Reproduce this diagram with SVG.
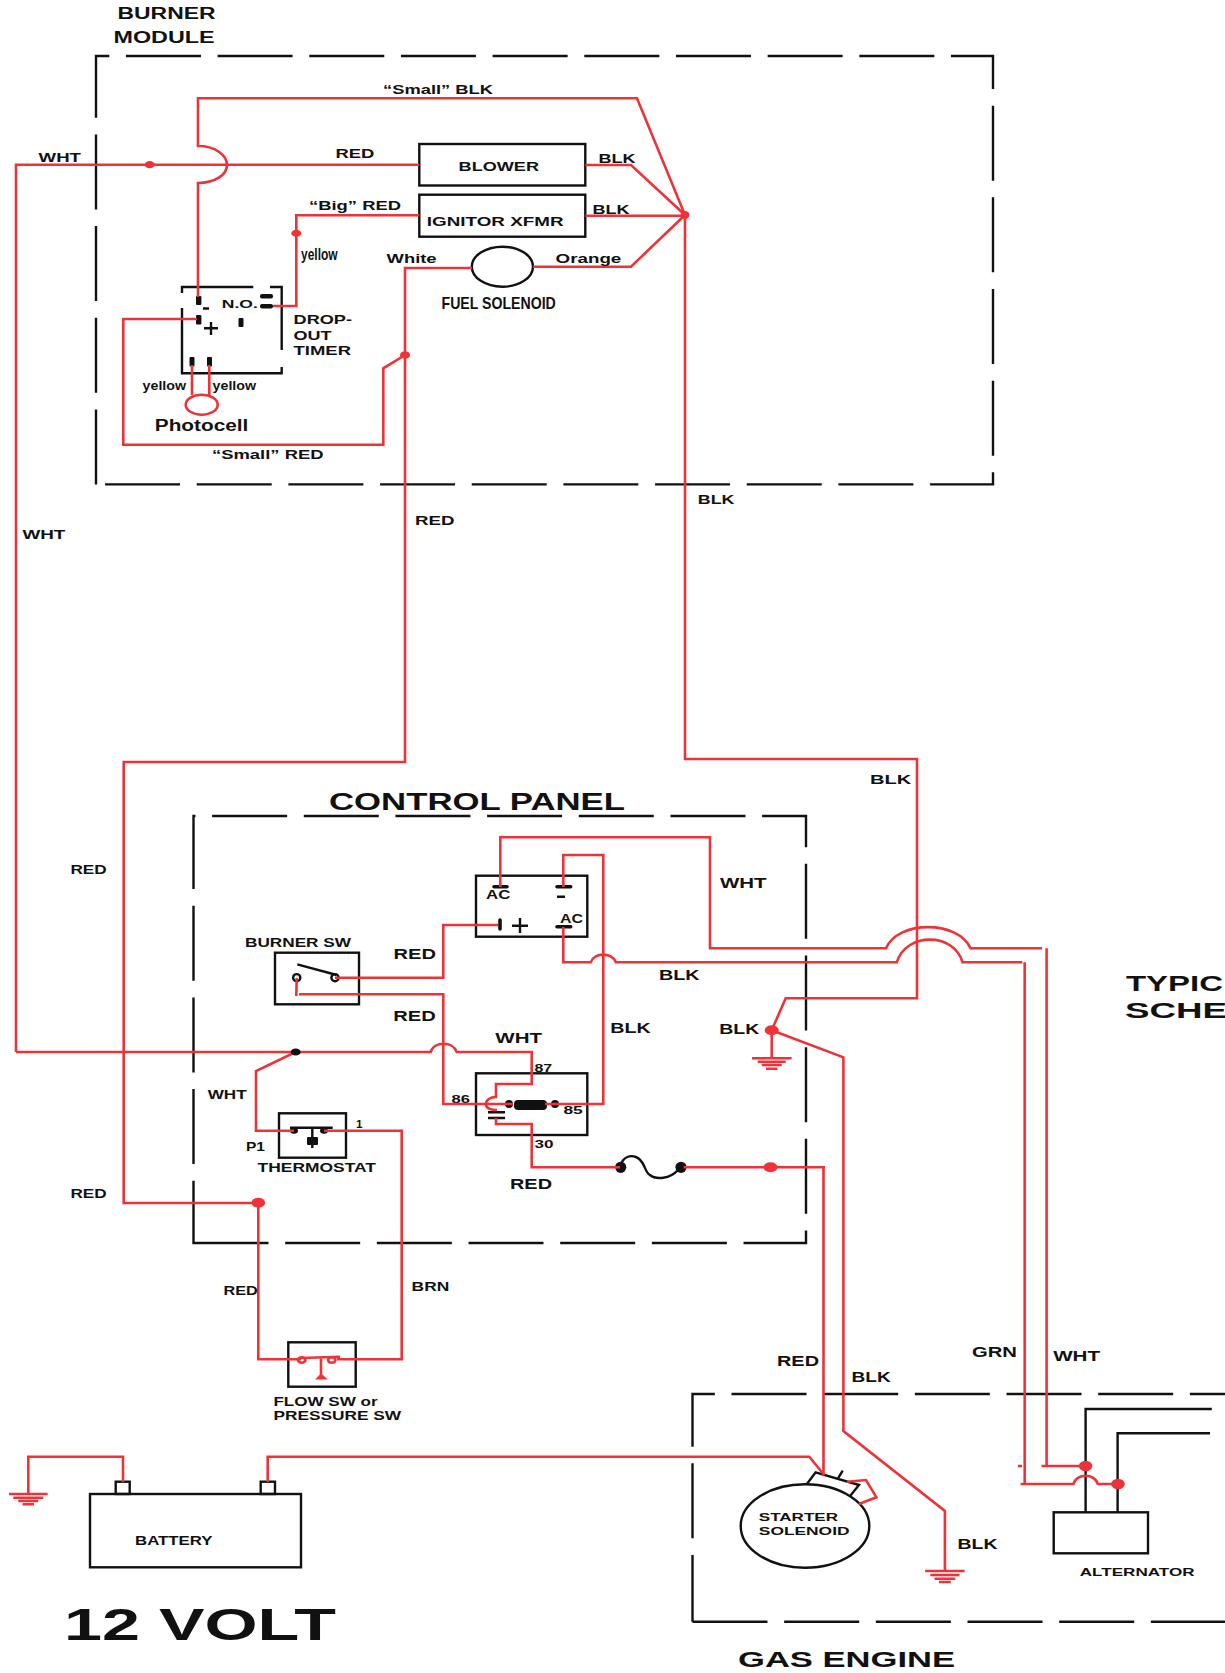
<svg xmlns="http://www.w3.org/2000/svg" width="1225" height="1673" viewBox="0 0 1225 1673">
<style>
text{font-family:"Liberation Sans",Arial,sans-serif;font-weight:700;fill:#111}
.k{fill:none;stroke:#111;stroke-width:2.4}
.d{fill:none;stroke:#111;stroke-width:2.4;stroke-dasharray:75 16.67}
.r{fill:none;stroke:#ee3338;stroke-width:2.6}
.rf{fill:#ee3338;stroke:none}
.kf{fill:#111;stroke:none}
.bar{fill:none;stroke:#111;stroke-width:3.6;stroke-linecap:round}
.s10{font-size:10.5px}.s11{font-size:11.5px}.s12{font-size:12px}.s13{font-size:13px}.s14{font-size:14px}.s16{font-size:16px}.s18{font-size:17px}.s22{font-size:22px}.s23{font-size:23px}.s44{font-size:44px}
</style>
<g id="burner-module">
<path class="d" d="M96,484.4V56H993V484.4Z"/>
<text class="s16" x="117.5" y="19" textLength="98" lengthAdjust="spacingAndGlyphs">BURNER</text>
<text class="s16" x="113.5" y="43.3" textLength="101" lengthAdjust="spacingAndGlyphs">MODULE</text>
</g>
<g id="control-panel">
<path class="d" d="M193.5,1243H806V816H193.5Z"/>
<text class="s23" x="329" y="810" textLength="296" lengthAdjust="spacingAndGlyphs">CONTROL PANEL</text>
</g>
<g id="gas-engine">
<path class="d" d="M692.5,1621.7H1240"/>
<path class="d" stroke-dashoffset="8.3" d="M692.5,1621.7V1394H1240"/>
<text class="s22" x="738" y="1667" textLength="217" lengthAdjust="spacingAndGlyphs">GAS ENGINE</text>
</g>
<g id="blower">
<rect class="k" x="419.3" y="144" width="166" height="41.5"/>
<text class="s13" x="458.6" y="171" textLength="80.4" lengthAdjust="spacingAndGlyphs">BLOWER</text>
</g>
<g id="ignitor">
<rect class="k" x="419.3" y="194.7" width="166" height="42"/>
<text class="s13" x="426.8" y="226" textLength="136.7" lengthAdjust="spacingAndGlyphs">IGNITOR XFMR</text>
</g>
<g id="fuel-solenoid">
<ellipse class="k" cx="502.4" cy="266.7" rx="30.6" ry="20"/>
<text class="s18" x="441.5" y="309.3" textLength="114.3" lengthAdjust="spacingAndGlyphs">FUEL SOLENOID</text>
</g>
<g id="drop-out-timer">
<path class="k" d="M182,293V287H253.3M270,287H281.7V350M281.7,367V373.3H182V308"/>
<rect class="kf" x="260" y="294" width="13" height="4.5" rx="2"/>
<rect class="kf" x="260" y="304" width="13" height="4.5" rx="2"/>
<rect class="kf" x="196" y="296" width="5.4" height="9" rx="1"/>
<rect class="kf" x="196" y="315" width="5.4" height="9.5" rx="1"/>
<rect class="kf" x="238.5" y="318" width="5" height="9" rx="1"/>
<rect class="kf" x="189.5" y="357" width="5" height="9.5" rx="1"/>
<rect class="kf" x="207" y="357" width="5" height="9.5" rx="1"/>
<path class="k" d="M203,308.5H209M204,328.3H218M211,322V335"/>
<text class="s11" x="221.8" y="308.3" textLength="36" lengthAdjust="spacingAndGlyphs">N.O.</text>
<text class="s13" x="293.6" y="324.3" textLength="58.4" lengthAdjust="spacingAndGlyphs">DROP-</text>
<text class="s13" x="293.6" y="340" textLength="38" lengthAdjust="spacingAndGlyphs">OUT</text>
<text class="s13" x="293.6" y="355" textLength="57.4" lengthAdjust="spacingAndGlyphs">TIMER</text>
</g>
<g id="photocell">
<ellipse class="r" cx="201.7" cy="404.7" rx="16" ry="10"/>
<text class="s16" x="154.8" y="431" textLength="93.5" lengthAdjust="spacingAndGlyphs">Photocell</text>
</g>
<g id="rectifier">
<rect class="k" x="476" y="875.7" width="111.3" height="61"/>
<path class="bar" d="M494,886.7H507M557,886.7H570.7M557,926.7H570.7M500,920V929"/>
<path class="k" d="M557,896.7H565M512,925.7H528M520,918V933"/>
<text class="s12" x="486" y="899" textLength="24.3" lengthAdjust="spacingAndGlyphs">AC</text>
<text class="s12" x="560" y="923.3" textLength="23" lengthAdjust="spacingAndGlyphs">AC</text>
</g>
<g id="burner-sw">
<rect class="k" x="275" y="952.7" width="84" height="51.6"/>
<path class="k" d="M297.3,964.3L336.7,975"/>
<circle class="k" cx="296.7" cy="977.7" r="3.6"/>
<circle class="k" cx="335" cy="977.7" r="3.6"/>
<text class="s12" x="245" y="947.3" textLength="106" lengthAdjust="spacingAndGlyphs">BURNER SW</text>
</g>
<g id="relay">
<rect class="k" x="476" y="1073.3" width="111.3" height="61.7"/>
<circle class="kf" cx="509" cy="1104" r="4"/>
<circle class="kf" cx="555" cy="1104" r="4"/>
<rect class="kf" x="514" y="1100" width="33" height="10" rx="4"/>
<path class="k" d="M488,1112.3H505M488,1118H505"/>
<text class="s11" x="534.4" y="1072" textLength="17.7" lengthAdjust="spacingAndGlyphs">87</text>
<text class="s11" x="451.6" y="1103.3" textLength="18.4" lengthAdjust="spacingAndGlyphs">86</text>
<text class="s11" x="563.4" y="1114" textLength="19.3" lengthAdjust="spacingAndGlyphs">85</text>
<text class="s11" x="534.4" y="1148" textLength="19" lengthAdjust="spacingAndGlyphs">30</text>
</g>
<g id="thermostat">
<rect class="k" x="279" y="1113.3" width="67" height="44.4"/>
<path class="k" d="M290,1127.7H332.7M312.3,1127.7V1148"/>
<rect class="kf" x="307" y="1137" width="11" height="8" rx="1"/>
<ellipse class="kf" cx="294" cy="1130.7" rx="4" ry="3"/>
<ellipse class="kf" cx="324" cy="1130.7" rx="4" ry="3"/>
<text class="s12" x="257.6" y="1172" textLength="118.4" lengthAdjust="spacingAndGlyphs">THERMOSTAT</text>
<text class="s11" x="356" y="1127.7" textLength="6.5" lengthAdjust="spacingAndGlyphs">1</text>
<text class="s12" x="246" y="1151" textLength="19" lengthAdjust="spacingAndGlyphs">P1</text>
</g>
<g id="fuse">
<circle class="kf" cx="620.7" cy="1167.3" r="5.6"/>
<circle class="kf" cx="681" cy="1167.3" r="5.6"/>
<path class="k" d="M621,1164C624,1157 630,1155 636,1157C645,1160 644,1172 650,1175C656,1180 670,1179 678,1170"/>
</g>
<g id="flow-sw">
<rect class="k" x="288.3" y="1342.3" width="67.4" height="44.4"/>
<text class="s12" x="273.4" y="1406" textLength="104.3" lengthAdjust="spacingAndGlyphs">FLOW SW or</text>
<text class="s12" x="273.4" y="1420" textLength="127.7" lengthAdjust="spacingAndGlyphs">PRESSURE SW</text>
</g>
<g id="battery">
<rect class="k" x="90" y="1494" width="211" height="73.3"/>
<rect class="k" x="115.7" y="1481.7" width="14" height="12.3"/>
<rect class="k" x="260.7" y="1481.7" width="14.3" height="12.3"/>
<text class="s12" x="135" y="1545" textLength="77.6" lengthAdjust="spacingAndGlyphs">BATTERY</text>
<text class="s44" x="64" y="1640" textLength="272" lengthAdjust="spacingAndGlyphs">12 VOLT</text>
</g>
<g id="starter-solenoid">
<ellipse class="k" cx="805" cy="1526" rx="64.3" ry="41.7"/>
<path class="k" d="M806.9,1484L815.6,1472.3L859,1485L850.3,1495.7M838,1478.3L842.7,1470.7"/>
<text class="s11" x="758.8" y="1521" textLength="79.2" lengthAdjust="spacingAndGlyphs">STARTER</text>
<text class="s11" x="758.8" y="1535" textLength="90.7" lengthAdjust="spacingAndGlyphs">SOLENOID</text>
</g>
<g id="alternator">
<rect class="k" x="1053.7" y="1512.3" width="94.3" height="41"/>
<path class="k" d="M1085.6,1512.3V1409H1211.8M1117.6,1512.3V1433.3H1210"/>
<text class="s11" x="1079.8" y="1576" textLength="114.7" lengthAdjust="spacingAndGlyphs">ALTERNATOR</text>
</g>
<g id="connectors">
<path class="r" d="M16,1052V164.7H419.3"/>
<path class="r" d="M198,297V183C215,183 227,175 227,164.7C227,155 215,146 198,146V98.3H637L685,215"/>
<path class="r" d="M585.3,165H631L685,215M585.3,215.7H685M533,266.7H631L685,215"/>
<path class="r" d="M685,215V759H917V998.3H785.7L771.7,1030.3L843.4,1057.3V1431L944.9,1511V1571"/>
<path class="r" d="M771.7,1030.3V1058.3"/>
<path class="r" d="M472,268H405V762H123.7V1203H258.3V1359.3H301"/>
<path class="r" d="M405,355L383.3,368.3V444.8H123.3V319H197"/>
<path class="r" d="M419.3,215.3H296.3V306H273"/>
<path class="r" d="M192,365V395M209.3,365V395"/>
<path class="r" d="M16,1052H430.7C434,1041 453,1041 456.7,1052H531.7V1084H496V1097C490,1097 486,1100 486,1104C486,1108 490,1110 497,1110"/>
<path class="r" d="M295.7,1052L256,1071V1130.7H294"/>
<path class="r" d="M324,1130.7H401.7V1359.3H336.7"/>
<path class="r" d="M335,977.7H443.3V925H498"/>
<path class="r" d="M296.7,978L296.3,996M299,994.3H443.3V1104H513"/>
<path class="r" d="M545,1104H603.3V855H563.3V887"/>
<path class="r" d="M500.3,887V837.3H710V948.3H886C898,920 958,920 970.5,948.3H1042"/>
<path class="r" d="M1046.6,948.3V1466M1041.5,1466H1085.6"/>
<path class="r" d="M563.3,927V962.3H590.7C594,952 612,952 616,962.3H896.8C906,932 954,932 962.5,962.3H1022.3"/>
<path class="r" d="M1024.7,962.3V1484M1020.6,1484H1073.5C1076,1473 1095,1473 1097.8,1484H1118"/>
<path class="r" d="M1018,1466H1022"/>
<path class="r" d="M496,1118V1124H531.7V1167.3H620"/>
<path class="r" d="M683.7,1167.3H825M823.5,1167.3V1475"/>
<path class="r" d="M123,1482V1456.7H28.3V1494M267.7,1482V1456.7H809.3L824.2,1475"/>
<path class="r" d="M846.8,1481.7L866,1480L876.4,1497.3L859,1504"/>
<path class="r" stroke-width="2" d="M321,1357V1378M301,1358L340,1356.7"/>
<ellipse class="r" cx="301.7" cy="1360" rx="3.6" ry="2.8"/>
<ellipse class="r" cx="331.7" cy="1360" rx="3.6" ry="2.8"/>
<path class="rf" d="M315,1379.5L321,1373.5L328,1379.5Z"/>
<path class="r" d="M9,1494H47.6M13.3,1497.7H43.3M18.3,1501H38.3M22.6,1504.3H34M752,1058.3H791.6M757.7,1061.7H785.7M761.7,1065H781.7M766,1068.7H777.4M925.2,1571H964.6M930.3,1575H959.5M934.5,1578.7H955.3M939,1582H950.8"/>
<ellipse class="rf" cx="149.7" cy="164.7" rx="5" ry="3.6"/>
<ellipse class="rf" cx="296.3" cy="233.3" rx="5" ry="3.6"/>
<ellipse class="rf" cx="405" cy="355" rx="5" ry="3.8"/>
<ellipse class="rf" cx="685" cy="215" rx="4.5" ry="4"/>
<ellipse class="kf" cx="295.7" cy="1052" rx="5" ry="3.6"/>
<ellipse class="rf" cx="258.3" cy="1202.7" rx="6.8" ry="5"/>
<ellipse class="rf" cx="771.7" cy="1030.3" rx="7" ry="5"/>
<ellipse class="rf" cx="770.5" cy="1167.3" rx="7" ry="5"/>
<ellipse class="rf" cx="1085.6" cy="1466" rx="6.8" ry="5.2"/>
<ellipse class="rf" cx="1118" cy="1484" rx="6.8" ry="5.2"/>
</g>
<g id="wire-labels">
<text class="s13" x="383" y="94.3" textLength="110" lengthAdjust="spacingAndGlyphs">“Small” BLK</text>
<text class="s13" x="38.6" y="162" textLength="42.4" lengthAdjust="spacingAndGlyphs">WHT</text>
<text class="s13" x="335.4" y="158" textLength="39" lengthAdjust="spacingAndGlyphs">RED</text>
<text class="s13" x="309" y="210" textLength="92" lengthAdjust="spacingAndGlyphs">“Big” RED</text>
<text class="s16" x="301" y="260" textLength="36.6" lengthAdjust="spacingAndGlyphs">yellow</text>
<text class="s13" x="386.6" y="263.3" textLength="50" lengthAdjust="spacingAndGlyphs">White</text>
<text class="s13" x="555.6" y="263.3" textLength="65.7" lengthAdjust="spacingAndGlyphs">Orange</text>
<text class="s13" x="598.4" y="163.3" textLength="37" lengthAdjust="spacingAndGlyphs">BLK</text>
<text class="s13" x="592.4" y="214.3" textLength="37" lengthAdjust="spacingAndGlyphs">BLK</text>
<text class="s13" x="142.6" y="390" textLength="43.4" lengthAdjust="spacingAndGlyphs">yellow</text>
<text class="s13" x="212.6" y="390" textLength="43.4" lengthAdjust="spacingAndGlyphs">yellow</text>
<text class="s13" x="212" y="459.3" textLength="111.5" lengthAdjust="spacingAndGlyphs">“Small” RED</text>
<text class="s13" x="22.4" y="539" textLength="43" lengthAdjust="spacingAndGlyphs">WHT</text>
<text class="s13" x="697.8" y="504" textLength="36.6" lengthAdjust="spacingAndGlyphs">BLK</text>
<text class="s13" x="415" y="525" textLength="39.5" lengthAdjust="spacingAndGlyphs">RED</text>
<text class="s13" x="870" y="784" textLength="41.3" lengthAdjust="spacingAndGlyphs">BLK</text>
<text class="s12" x="70.4" y="874" textLength="36.3" lengthAdjust="spacingAndGlyphs">RED</text>
<text class="s14" x="720" y="888.3" textLength="46.6" lengthAdjust="spacingAndGlyphs">WHT</text>
<text class="s14" x="393.6" y="959" textLength="42.4" lengthAdjust="spacingAndGlyphs">RED</text>
<text class="s14" x="393.3" y="1021" textLength="42.4" lengthAdjust="spacingAndGlyphs">RED</text>
<text class="s14" x="659" y="979.7" textLength="40.6" lengthAdjust="spacingAndGlyphs">BLK</text>
<text class="s14" x="610.3" y="1033" textLength="40.4" lengthAdjust="spacingAndGlyphs">BLK</text>
<text class="s14" x="719.3" y="1034" textLength="40" lengthAdjust="spacingAndGlyphs">BLK</text>
<text class="s14" x="495.3" y="1043.3" textLength="46.7" lengthAdjust="spacingAndGlyphs">WHT</text>
<text class="s12" x="207.7" y="1099" textLength="39" lengthAdjust="spacingAndGlyphs">WHT</text>
<text class="s14" x="510" y="1189" textLength="42" lengthAdjust="spacingAndGlyphs">RED</text>
<text class="s12" x="70.4" y="1198" textLength="36.3" lengthAdjust="spacingAndGlyphs">RED</text>
<text class="s12" x="223.5" y="1295" textLength="34.3" lengthAdjust="spacingAndGlyphs">RED</text>
<text class="s13" x="411.6" y="1291" textLength="37.7" lengthAdjust="spacingAndGlyphs">BRN</text>
<text class="s14" x="777" y="1366" textLength="42" lengthAdjust="spacingAndGlyphs">RED</text>
<text class="s14" x="851.5" y="1381.7" textLength="39.2" lengthAdjust="spacingAndGlyphs">BLK</text>
<text class="s14" x="972" y="1357" textLength="45" lengthAdjust="spacingAndGlyphs">GRN</text>
<text class="s14" x="1053.2" y="1361" textLength="46.9" lengthAdjust="spacingAndGlyphs">WHT</text>
<text class="s14" x="957.5" y="1549" textLength="40" lengthAdjust="spacingAndGlyphs">BLK</text>
</g>
<g id="title">
<text class="s22" x="1126" y="990.7" textLength="97" lengthAdjust="spacingAndGlyphs">TYPIC</text>
<text class="s22" x="1125" y="1018.3" textLength="102" lengthAdjust="spacingAndGlyphs">SCHE</text>
</g>
</svg>
